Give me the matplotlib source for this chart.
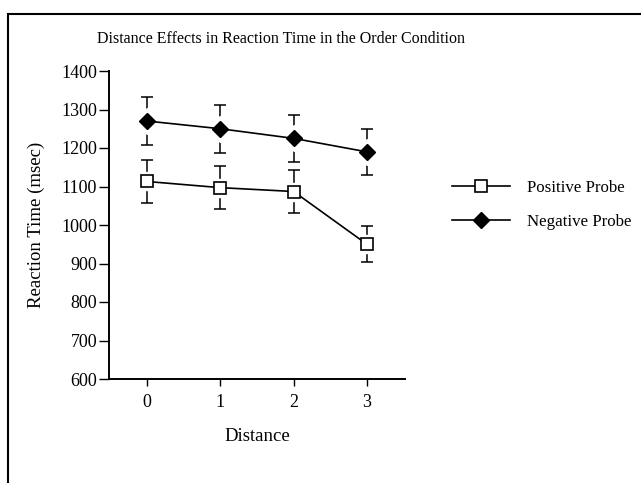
import matplotlib
matplotlib.use('Agg')
import matplotlib.pyplot as plt
from matplotlib.patches import Rectangle

plt.rcParams['font.family'] = ['Liberation Serif', 'DejaVu Serif']

# data
distance = [0, 1, 2, 3]
positive = [1113, 1097, 1087, 950]
positive_err = [57, 55, 55, 47]
negative = [1270, 1250, 1225, 1190]
negative_err = [63, 62, 61, 60]
y_ticks = [600, 700, 800, 900, 1000, 1100, 1200, 1300, 1400]

fig = plt.figure(figsize=(6.41, 4.83), dpi=100)
ax = fig.add_axes([109 / 641, 1 - 379 / 483, (405 - 109) / 641, (379 - 71) / 483])

# outer frame (only top and left edges visible in the scan)
fig.patches.append(Rectangle((8 / 641, -0.1), 1.2, 1 - 14 / 483 + 0.1,
                             transform=fig.transFigure, fill=False,
                             edgecolor='black', linewidth=1.5))

# error bars first, then a white halo so they stop short of the markers
for vals, errs, mk, ms in [(negative, negative_err, 'D', 8), (positive, positive_err, 's', 8.5)]:
    ax.errorbar(distance, vals, yerr=errs, fmt='none', ecolor='black',
                elinewidth=1.1, capsize=4, capthick=1.1, zorder=2)
    ax.plot(distance, vals, linestyle='none', marker=mk, markersize=ms + 5,
            markerfacecolor='white', markeredgecolor='white', zorder=2.5)

ax.plot(distance, positive, color='black', lw=1.2, marker='s', markersize=8.5,
        markerfacecolor='white', markeredgewidth=1.2, zorder=3,
        label='Positive Probe')
ax.plot(distance, negative, color='black', lw=1.2, marker='D', markersize=8,
        markerfacecolor='black', zorder=3, label='Negative Probe')

ax.set_xlim(-0.52, 3.52)
ax.set_ylim(600, 1400)
ax.set_xticks(distance)
ax.set_yticks(y_ticks)
ax.spines['top'].set_visible(False)
ax.spines['right'].set_visible(False)
ax.spines['left'].set_linewidth(1.4)
ax.spines['bottom'].set_linewidth(1.4)
ax.tick_params(axis='y', direction='out', length=7, width=1, labelsize=13, pad=1.5)
ax.tick_params(axis='x', direction='out', length=5, width=1, labelsize=13, pad=6)

ax.set_xlabel('Distance', fontsize=13.5, labelpad=12)
ax.set_ylabel('Reaction Time (msec)', fontsize=13.5, labelpad=12)
fig.text(281 / 641, 1 - 39 / 483, 'Distance Effects in Reaction Time in the Order Condition',
         ha='center', va='center', fontsize=11.5)

fig.legend(loc='center left', bbox_to_anchor=(452 / 641, 1 - 205 / 483),
           frameon=False, fontsize=12.2, handlelength=3.4, handletextpad=1.0,
           labelspacing=1.1, borderpad=0, borderaxespad=0)

fig.savefig('out.png', dpi=100)
